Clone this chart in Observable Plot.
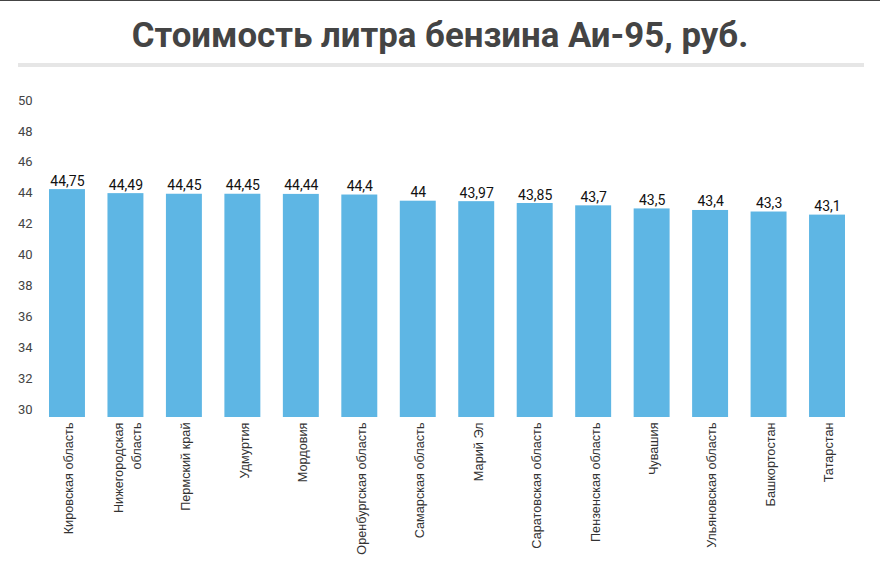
<!DOCTYPE html>
<html>
<head>
<meta charset="utf-8">
<script src="https://cdn.jsdelivr.net/npm/d3@7"></script>
<script src="https://cdn.jsdelivr.net/npm/@observablehq/plot@0.6"></script>
<style>
  html, body { margin: 0; padding: 0; background: #fff; }
  body { width: 880px; height: 566px; position: relative; overflow: hidden; border-top: 1px solid #444; box-sizing: border-box; }
  #title { position: absolute; left: 0; top: 12px; width: 880px; text-align: center;
           font-family: Roboto, sans-serif; font-weight: 700; font-size: 34.8px; color: #444; line-height: 44px; }
  #rule { position: absolute; left: 18px; top: 62px; width: 846px; height: 4px; background: #e6e6e6; }
  #chart { position: absolute; left: 0; top: 69px; }
</style>
</head>
<body>
<div id="title">Стоимость литра бензина Аи-95, руб.</div>
<div id="rule"></div>
<div id="chart"></div>
<script>
const regions = ["Кировская область", "Нижегородская\nобласть", "Пермский край", "Удмуртия", "Мордовия",
  "Оренбургская область", "Самарская область", "Марий Эл", "Саратовская область", "Пензенская область",
  "Чувашия", "Ульяновская область", "Башкортостан", "Татарстан"];
const prices = [44.75, 44.49, 44.45, 44.45, 44.44, 44.4, 44, 43.97, 43.85, 43.7, 43.5, 43.4, 43.3, 43.1];
const yTicks = [30, 32, 34, 36, 38, 40, 42, 44, 46, 48, 50];

const data = regions.map((r, i) => ({region: r, price: prices[i]}));
const fmt = v => String(v).replace(".", ",");

const plot = Plot.plot({
  width: 880,
  height: 497,
  marginTop: 38,
  marginBottom: 150,
  marginLeft: 49,
  marginRight: 35,
  style: {fontFamily: "Roboto, sans-serif", background: "transparent"},
  x: {domain: regions, paddingInner: 0.385, paddingOuter: 0, round: false, label: null},
  y: {domain: [30, 50], label: null},
  marks: [
    Plot.barY(data, {x: "region", y1: 30, y2: "price", fill: "#5eb6e4"}),
    Plot.text(data, {x: "region", y: "price", text: d => fmt(d.price), lineAnchor: "bottom", dy: -4,
      fontSize: 14, fill: "#111"}),
    Plot.axisY({ticks: yTicks, tickSize: 0, tickPadding: 17, dy: -8, fontSize: 13, fill: "#444",
      label: null, tickFormat: d => String(d)}),
    Plot.axisX({tickSize: 0, tickRotate: -90, tickPadding: 5, fontSize: 12.7, fill: "#333", lineHeight: 1.45,
      fontFamily: "'Liberation Sans', Arial, sans-serif", label: null})
  ]
});
document.getElementById("chart").appendChild(plot);
</script>
</body>
</html>
